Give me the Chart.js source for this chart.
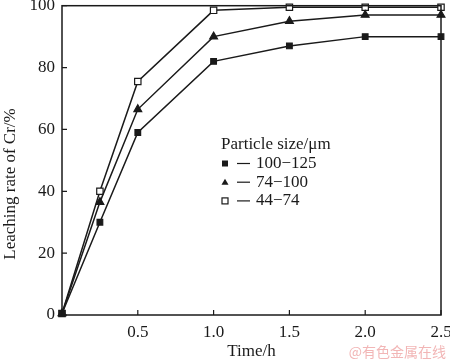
<!DOCTYPE html>
<html>
<head>
<meta charset="utf-8">
<script src="https://cdn.jsdelivr.net/npm/chart.js@4/dist/chart.umd.min.js"></script>
<style>
  html, body { margin: 0; padding: 0; background: #fff; }
  #wrap { width: 450px; height: 360px; }
</style>
</head>
<body>
<div id="wrap"><canvas id="leachChart" width="450" height="360"></canvas></div>
<script>
// Leaching rate of Cr vs time for three particle sizes
const times = [0, 0.25, 0.5, 1.0, 1.5, 2.0, 2.5];
const rate100to125 = [0.5, 30, 59, 82, 87, 90, 90];
const rate74to100 = [0.5, 36.5, 66.5, 90, 95, 97, 97];
const rate44to74 = [0.5, 40, 75.5, 98.5, 99.5, 99.5, 99.5];
const seriesLabels = ['100\u2212125', '74\u2212100', '44\u221274'];
const xTicks = [0, 0.5, 1.0, 1.5, 2.0, 2.5];
const yTicks = [0, 20, 40, 60, 80, 100];

const serif = '"Liberation Serif", "DejaVu Serif", serif';
const ink = '#1a1a1a';

const toPoints = ys => times.map((t, i) => ({x: t, y: ys[i]}));

// frame, inward ticks, axis titles, legend and watermark
const decorPlugin = {
  id: 'decor',
  afterDraw(chart) {
    const ctx = chart.ctx;
    const a = chart.chartArea;
    const xs = chart.scales.x, ys = chart.scales.y;
    ctx.save();
    ctx.strokeStyle = ink;
    ctx.lineWidth = 1.5;
    ctx.strokeRect(a.left, a.top, a.right - a.left, a.bottom - a.top);
    ctx.lineWidth = 1.2;
    ctx.beginPath();
    xTicks.forEach(v => {
      const px = xs.getPixelForValue(v);
      ctx.moveTo(px, a.bottom); ctx.lineTo(px, a.bottom - 5);
    });
    yTicks.forEach(v => {
      const py = ys.getPixelForValue(v);
      ctx.moveTo(a.left, py); ctx.lineTo(a.left + 5, py);
    });
    ctx.stroke();

    // axis titles
    ctx.fillStyle = ink;
    ctx.font = '17px ' + serif;
    ctx.textAlign = 'center';
    ctx.textBaseline = 'middle';
    ctx.fillText('Time/h', (a.left + a.right) / 2, 352);
    ctx.save();
    ctx.translate(11, 184);
    ctx.rotate(-Math.PI / 2);
    ctx.fillText('Leaching rate of Cr/%', 0, 0);
    ctx.restore();

    // legend
    ctx.textAlign = 'left';
    ctx.fillText('Particle size/\u03bcm', 221, 145);
    chart.data.datasets.forEach((ds, i) => {
      const y = 163.5 + i * 18.7;
      const mx = 225;
      ctx.lineWidth = 1.2;
      ctx.strokeStyle = ink;
      if (ds.pointStyle === 'triangle') {
        ctx.beginPath();
        ctx.moveTo(mx, y - 3.5); ctx.lineTo(mx + 3.5, y + 2.5); ctx.lineTo(mx - 3.5, y + 2.5);
        ctx.closePath();
        ctx.fillStyle = ink; ctx.fill();
      } else if (ds.pointBackgroundColor === '#ffffff') {
        ctx.fillStyle = '#fff';
        ctx.fillRect(mx - 3, y - 3, 6, 6);
        ctx.strokeRect(mx - 3, y - 3, 6, 6);
      } else {
        ctx.fillStyle = ink;
        ctx.fillRect(mx - 3, y - 3, 6, 6);
      }
      ctx.beginPath();
      ctx.moveTo(237, y); ctx.lineTo(250, y);
      ctx.stroke();
      ctx.fillStyle = ink;
      ctx.fillText(ds.label, 256, y);
    });

    // watermark
    ctx.fillStyle = '#f2b6b6';
    ctx.font = '14px "Noto Sans CJK SC", sans-serif';
    ctx.textAlign = 'right';
    ctx.fillText('@\u6709\u8272\u91d1\u5c5e\u5728\u7ebf', 446, 352);
    ctx.restore();
  }
};

const makeSet = (label, ys, style, fill, r) => ({
  label: label,
  data: toPoints(ys),
  borderColor: ink,
  borderWidth: 1.5,
  pointStyle: style,
  pointRadius: r,
  pointBorderWidth: 1.2,
  pointBorderColor: ink,
  pointBackgroundColor: fill,
  clip: false,
  tension: 0
});

new Chart(document.getElementById('leachChart'), {
  type: 'line',
  data: {
    datasets: [
      makeSet(seriesLabels[0], rate100to125, 'rect', ink, 4),
      makeSet(seriesLabels[1], rate74to100, 'triangle', ink, 4.5),
      makeSet(seriesLabels[2], rate44to74, 'rect', '#ffffff', 4.5)
    ]
  },
  options: {
    responsive: false,
    animation: false,
    layout: {padding: {top: 3, right: 9, left: 0, bottom: 0}},
    plugins: {legend: {display: false}, tooltip: {enabled: false}},
    scales: {
      x: {
        type: 'linear', min: 0, max: 2.5,
        afterFit: s => { s.height = 45; s.paddingLeft = 0; s.paddingRight = 0; },
        afterBuildTicks: s => { s.ticks = xTicks.map(v => ({value: v})); },
        grid: {display: false, drawTicks: false},
        border: {display: false},
        ticks: {
          padding: 7, color: ink, font: {family: serif, size: 17},
          callback: v => v === 0 ? '' : v.toFixed(1)
        }
      },
      y: {
        min: 0, max: 100,
        afterFit: s => { s.width = 62; s.paddingTop = 0; s.paddingBottom = 0; },
        afterBuildTicks: s => { s.ticks = yTicks.map(v => ({value: v})); },
        grid: {display: false, drawTicks: false},
        border: {display: false},
        ticks: {
          padding: 7, color: ink, font: {family: serif, size: 17}
        }
      }
    }
  },
  plugins: [decorPlugin]
});
</script>
</body>
</html>
